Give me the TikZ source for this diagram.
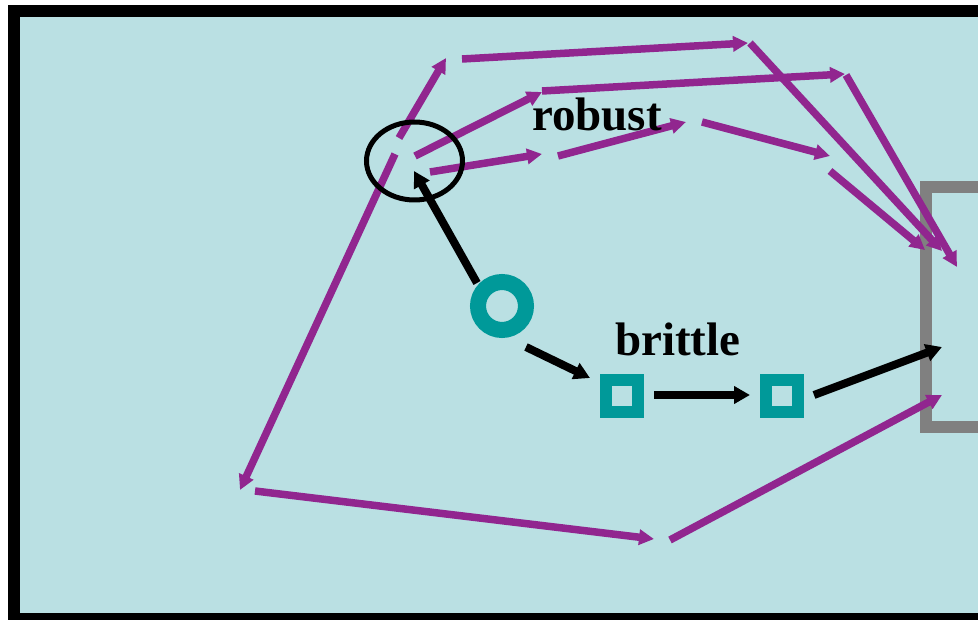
\documentclass[tikz,border=0pt]{standalone}
\usepackage{fontspec}
\setmainfont{Liberation Serif}
\usetikzlibrary{arrows.meta,shapes.geometric}
\definecolor{bgblue}{RGB}{186,224,227}
\definecolor{plum}{RGB}{145,38,143}
\definecolor{tealc}{RGB}{0,153,153}
\definecolor{grayc}{RGB}{128,128,128}
\tikzset{
  parrow/.style={draw=plum, line width=7.5pt, -{Triangle[length=15pt,width=15pt]}},
  barrow/.style={draw=black, line width=8pt, -{Triangle[length=16pt,width=17pt]}},
  sqnode/.style={draw=tealc, line width=12pt, minimum size=32pt, inner sep=0pt, outer sep=0pt},
  lbl/.style={font=\fontsize{47}{50}\selectfont\bfseries, inner sep=0pt, anchor=base west}
}
\begin{document}
\begin{tikzpicture}[x=1pt,y=-1pt]
\useasboundingbox (0,0) rectangle (978,620);
\clip (0,0) rectangle (978,620);
\fill[white] (0,0) rectangle (978,620);
% frame
\draw[line width=12pt, fill=bgblue] (14,11) rectangle (1000,619);
% gray box
\node[draw=grayc, line width=12pt, minimum width=120pt, minimum height=240pt, anchor=north west, inner sep=0pt, outer sep=0pt] (box) at (926,187) {};
% coordinates
\coordinate (a1) at (395,154); \coordinate (b1) at (240,490);
\coordinate (a2) at (399,138); \coordinate (b2) at (446,58);
\coordinate (a3) at (415,156); \coordinate (b3) at (542,92);
\coordinate (a4) at (430,172); \coordinate (b4) at (542,154);
\coordinate (a5) at (558,156); \coordinate (b5) at (686,122);
\coordinate (a6) at (702,122); \coordinate (b6) at (830,156);
\coordinate (a7) at (830,171); \coordinate (b7) at (925,250);
\coordinate (a8) at (462,59);  \coordinate (b8) at (748,43);
\coordinate (a9) at (750,43);  \coordinate (b9) at (942,251);
\coordinate (a10) at (542,91); \coordinate (b10) at (845,74);
\coordinate (a11) at (846,75); \coordinate (b11) at (957,267);
\coordinate (a12) at (255,491); \coordinate (b12) at (654,539);
\coordinate (a13) at (670,540); \coordinate (b13) at (942,395);
% purple arrows
\foreach \i in {1,...,13} { \draw[parrow] (a\i) -- (b\i); }
% hub ellipse
\node[ellipse, draw=black, line width=5pt, minimum width=96pt, minimum height=78pt, inner sep=0pt] (hub) at (414.5,161) {};
% teal ring and squares
\node[circle, draw=tealc, line width=16pt, minimum size=48pt, inner sep=0pt, outer sep=0pt] (ring) at (502,306) {};
\node[sqnode] (sq1) at (622,396) {};
\node[sqnode] (sq2) at (782,396) {};
% labels
\node[lbl] (robust) at (532,131) {robust};
\node[lbl] (brittle) at (615,356) {brittle};
% black arrows
\coordinate (c1) at (477,283); \coordinate (d1) at (414,171);
\coordinate (c2) at (526,347); \coordinate (d2) at (590,378);
\coordinate (c3) at (654,395); \coordinate (d3) at (750,395);
\coordinate (c4) at (814,395); \coordinate (d4) at (942,347);
\draw[barrow] (c1) -- (d1);
\draw[barrow] (c2) -- (d2);
\draw[barrow] (c3) -- (d3);
\draw[barrow] (c4) -- (d4);
\end{tikzpicture}
\end{document}
